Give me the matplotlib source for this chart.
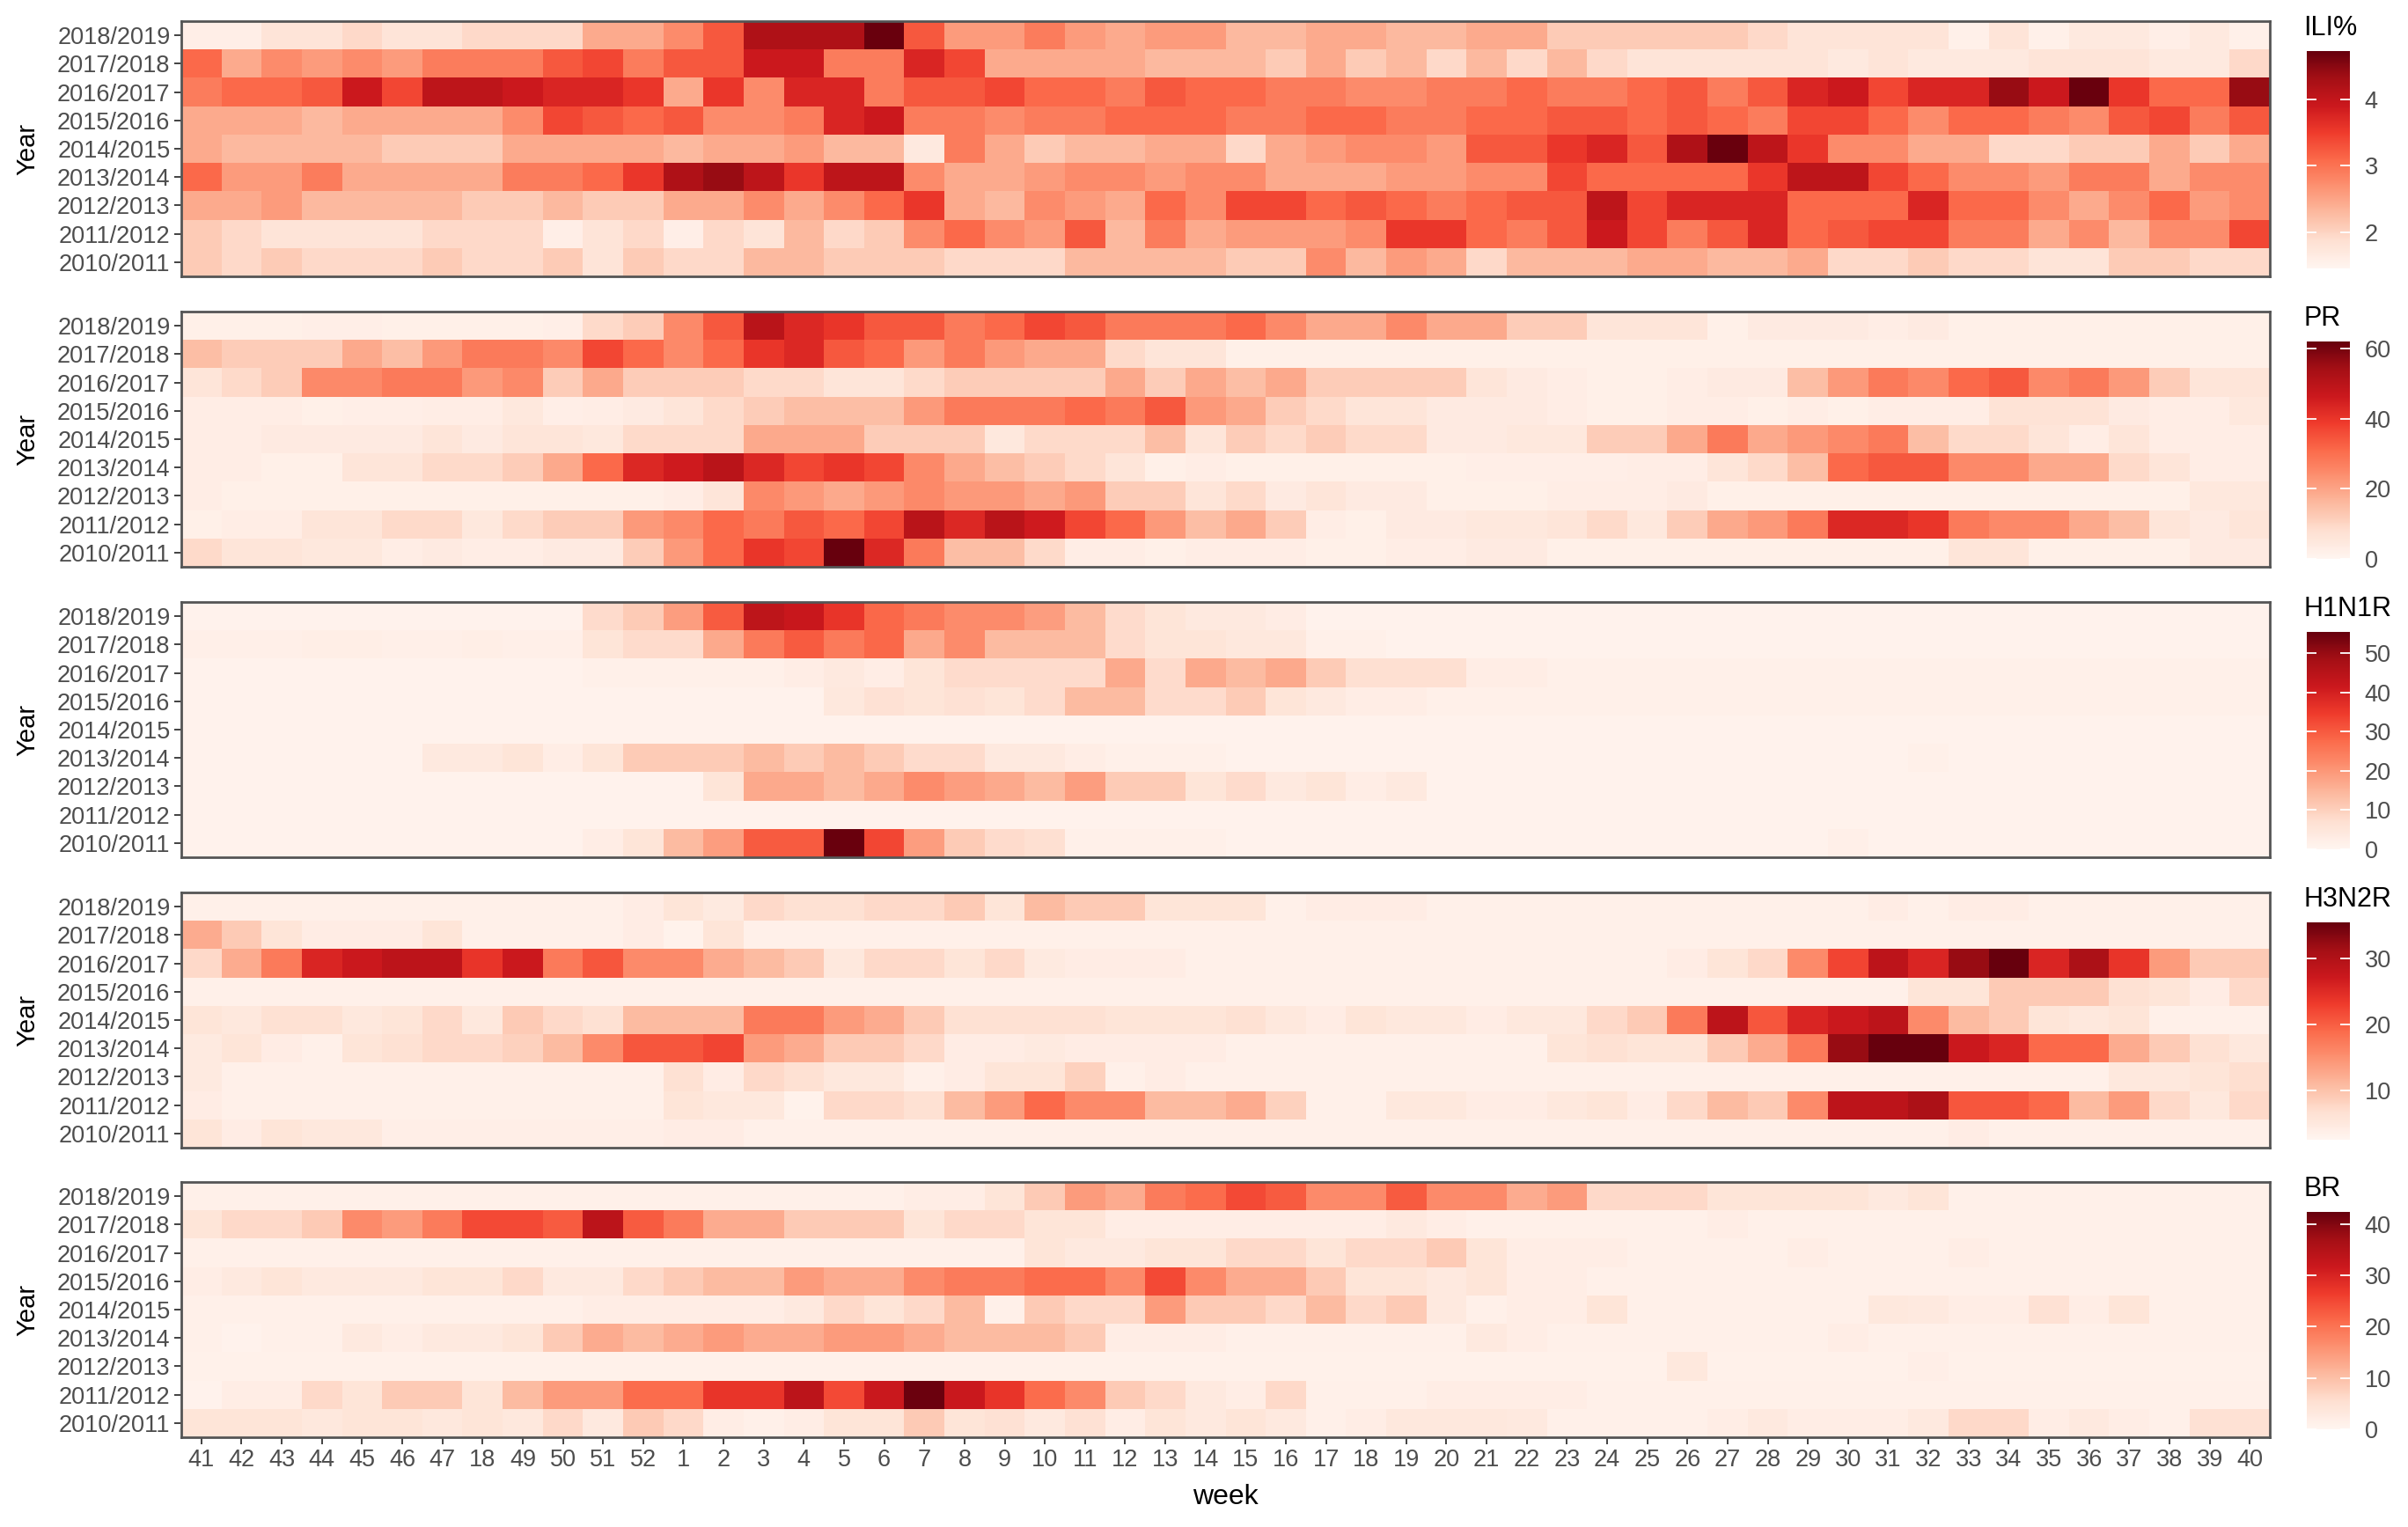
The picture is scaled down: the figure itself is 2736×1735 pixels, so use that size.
import numpy as np
import matplotlib
matplotlib.use("Agg")
import matplotlib.pyplot as plt

plt.rcParams['font.family'] = ['Liberation Sans', 'DejaVu Sans']

weeks = ["41", "42", "43", "44", "45", "46", "47", "18", "49", "50", "51", "52",
         "1", "2", "3", "4", "5", "6", "7", "8", "9", "10", "11", "12", "13", "14",
         "15", "16", "17", "18", "19", "20", "21", "22", "23", "24", "25", "26", "27",
         "28", "29", "30", "31", "32", "33", "34", "35", "36", "37", "38", "39", "40"]
years = ["2018/2019", "2017/2018", "2016/2017", "2015/2016", "2014/2015",
         "2013/2014", "2012/2013", "2011/2012", "2010/2011"]

ili = [
    [1.6,1.6,1.8,1.8,1.95,1.8,1.8,1.95,1.95,1.95, 2.45,2.45,2.75,3.25,4.2,4.2,4.2,4.7,3.25,2.6, 2.6,2.9,2.6,2.45,2.6,2.6, 2.3,2.3,2.45,2.45,2.3,2.3,2.45,2.45,2.1,2.1, 2.1,2.1,2.1,1.95,1.8,1.8,1.8,1.8,1.55,1.8, 1.55,1.7,1.7,1.6,1.7,1.55],
    [3.1,2.45,2.75,2.6,2.75,2.6,2.9,2.9,2.9,3.25, 3.4,2.9,3.25,3.25,3.9,3.9,2.9,2.9,3.75,3.4, 2.45,2.45,2.45,2.45,2.3,2.3, 2.3,2.1,2.45,2.1,2.3,1.95,2.3,1.95,2.3,1.95, 1.8,1.8,1.8,1.8,1.8,1.7,1.8,1.7,1.7,1.7, 1.8,1.8,1.8,1.7,1.7,1.95],
    [2.9,3.1,3.1,3.25,3.9,3.4,4.05,4.05,3.9,3.75, 3.75,3.55,2.45,3.55,2.75,3.75,3.75,2.9,3.25,3.25, 3.4,3.1,3.1,2.9,3.25,3.1, 3.1,2.9,2.9,2.75,2.75,2.9,2.9,3.1,2.9,2.9, 3.1,3.25,2.9,3.25,3.75,3.9,3.4,3.75,3.75,4.4, 3.9,4.7,3.55,3.1,3.1,4.4],
    [2.45,2.45,2.45,2.3,2.45,2.45,2.45,2.45,2.75,3.4, 3.25,3.1,3.25,2.75,2.75,2.9,3.75,3.9,2.9,2.9, 2.75,2.9,2.9,3.1,3.1,3.1, 2.9,2.9,3.1,3.1,2.9,2.9,3.1,3.1,3.25,3.25, 3.1,3.25,3.1,2.9,3.4,3.4,3.1,2.75,3.1,3.1, 2.9,2.75,3.25,3.4,2.9,3.25],
    [2.45,2.3,2.3,2.3,2.3,2.1,2.1,2.1,2.45,2.45, 2.45,2.45,2.3,2.45,2.45,2.6,2.3,2.3,1.7,2.9, 2.45,2.1,2.3,2.3,2.45,2.45, 1.95,2.45,2.6,2.75,2.75,2.6,3.25,3.25,3.55,3.75, 3.25,4.2,4.7,4.05,3.55,2.75,2.75,2.45,2.45,1.95, 1.95,2.1,2.1,2.45,2.1,2.45],
    [3.1,2.6,2.6,2.9,2.45,2.45,2.45,2.45,2.9,2.9, 3.1,3.55,4.2,4.4,4.05,3.55,4.05,4.05,2.75,2.45, 2.45,2.6,2.75,2.75,2.6,2.75, 2.75,2.45,2.45,2.45,2.6,2.6,2.75,2.75,3.4,3.1, 3.1,3.1,3.1,3.55,4.05,4.05,3.4,3.1,2.75,2.75, 2.6,2.9,2.9,2.45,2.75,2.75],
    [2.45,2.45,2.6,2.3,2.3,2.3,2.3,2.1,2.1,2.3, 2.1,2.1,2.45,2.45,2.75,2.45,2.75,3.1,3.55,2.45, 2.3,2.75,2.6,2.45,3.1,2.75, 3.4,3.4,3.1,3.25,3.1,2.9,3.1,3.25,3.25,4.05, 3.4,3.75,3.75,3.75,3.1,3.1,3.1,3.75,3.1,3.1, 2.75,2.45,2.75,3.1,2.6,2.75],
    [2.1,1.95,1.8,1.8,1.8,1.8,1.95,1.95,1.95,1.6, 1.8,1.95,1.6,1.95,1.8,2.3,1.95,2.1,2.75,3.1, 2.75,2.6,3.25,2.3,2.9,2.45, 2.6,2.6,2.6,2.75,3.55,3.55,3.1,2.9,3.25,3.9, 3.4,2.9,3.25,3.75,3.1,3.25,3.4,3.4,2.9,2.9, 2.45,2.75,2.3,2.75,2.75,3.4],
    [2.1,1.95,2.1,1.95,1.95,1.95,2.1,1.95,1.95,2.1, 1.8,2.1,1.95,1.95,2.3,2.3,2.1,2.1,2.1,1.95, 1.95,1.95,2.3,2.3,2.3,2.3, 2.1,2.1,2.75,2.3,2.6,2.45,1.95,2.3,2.3,2.3, 2.45,2.45,2.3,2.3,2.45,1.95,1.95,2.1,1.95,1.95, 1.8,1.8,2.1,2.1,1.95,1.95],
]

pr = [
    [2,2,2,2.5,2.5,2,2,2,2,2.5, 9,12,25,34,50,43,40,34,34,28, 31,37,34,28,28,28, 31,25,19,19,25,19,19,12,12,6, 6,6,2,4,4,4,3,4,2,2, 2,2,2,2,2,2],
    [15,12,12,12,19,15,22,28,28,25, 37,31,25,31,40,43,34,31,22,28, 22,19,19,9,6,6, 2,2,2,2,2,2,2,2,2,2, 2,2,2,2,2,2,2,2,2,2, 2,2,2,2,2,2],
    [6,9,12,25,25,28,28,22,25,12, 19,12,12,12,9,9,6,6,9,12, 12,12,12,19,12,19, 15,19,12,12,12,12,6,4,3,2, 2,3,4,4,15,22,28,25,31,34, 25,28,22,12,6,6],
    [3,3,3,2,2.5,2.5,3,3,5,2.5, 3,4,6,9,12,15,15,15,22,28, 28,28,31,28,34,22, 19,12,9,6,6,4,4,4,3,2, 2,3,3,2,3,2,3,3,3,7, 7,7,4,3,3,5],
    [3,3,4,4,4,4,6,4,6,6, 5,9,9,9,19,19,19,12,12,12, 5,9,9,9,15,6, 12,9,12,9,9,4,4,5,5,12, 12,19,28,19,22,25,28,15,9,9, 6,3,6,3,3,3],
    [3,3,2,2,6,6,9,9,12,19, 31,43,46,50,43,37,40,37,25,19, 15,12,9,6,2,3, 2,2,2,2,2,2,2.5,2.5,2.5,2.5, 3,3,6,9,15,31,34,34,25,25, 19,19,9,6,3,3],
    [3,2,2,2,2,2,2,2,2,2, 2,2,3,6,25,22,19,22,25,22, 22,19,22,12,12,6, 9,4,6,4,4,2,2,2,3,3, 3,4,2,2,2,2,2,2,2,2, 2,2,2,2,5,5],
    [2,3,3,6,6,9,9,5,9,12, 12,22,25,31,28,34,31,37,50,43, 50,46,37,31,22,15, 19,12,3,2,4,4,5,5,6,9, 5,12,19,22,28,43,43,40,28,25, 25,19,15,6,4,6],
    [9,6,6,5,5,3,4,3,3,4, 4,12,22,31,40,37,62,43,28,15, 15,9,3,3,2,3, 3,3,2,2,3,3,4,4,2,2, 2,2,2,2,2,2,2,2,6,6, 2,2,2,2,4,4],
]

h1n1r = [
    [1,1,1,1,1,1,1,1,1,1, 8,11,19,30,44,42,36,28,25,22, 22,19,14,8,5.5,4, 4,3,1,1,1,1,1,1,1,1, 1,1,1,1,1,1,1,1,1,1, 1,1,1,1,1,1],
    [2,2,2,2.5,2.5,2,2,2.5,2,2, 5.5,8,8,17,25,30,25,28,17,22, 14,14,14,8,5.5,5.5, 4.5,4.5,1.7,1.7,1,1,1,1,1,1, 1,1,1,1,1,1,1,1,1,1, 1,1,1,1,1,1],
    [1,1,1,1,1,1,1,1,1,1, 1.7,1.7,1.7,1.7,1.7,2.8,3.9,2.8,5.5,8, 8,8,8,17,8,17, 14,17,11,7,7,7,2.8,2.8,1.7,1.7, 1.7,1.7,1.7,1.7,1.7,1.7,1.7,1.7,1.7,1.7, 1.7,1.7,1.7,1.7,1.7,1.7],
    [1,1,1,1,1,1,1,1,1,1, 1,1,1,1,1,1,4.5,6.5,5.5,6.5, 5.5,8,14,14,8,8, 11,5.5,3.9,2.8,2.8,1.7,1.7,1.7,1.7,1.7, 1.7,1.7,1.7,1.7,1.7,1.7,1.7,1.7,1.7,1.7, 1.7,1.7,1.7,1.7,1.7,1.7],
    [1,1,1,1,1,1,1,1,1,1, 1,1,1,1,1,1,1,1,1,1, 1,1,1,1,1,1, 1,1,1,1,1,1,1,1,1,1, 1,1,1,1,1,1,1,1,1,1, 1,1,1,1,1,1],
    [1,1,1,1,1,1,3.9,3.9,5.5,2.8, 5.5,11,11,11,14,11,14,11,8,8, 3.9,3.9,2.8,1.7,1.7,1.7, 1,1,1,1,1,1,1,1,1,1, 1,1,1,1,1,1,1,1.7,1,1, 1,1,1,1,1,1],
    [1,1,1,1,1,1,1,1,1,1, 1,1,1,5.5,17,17,14,17,22,19, 17,14,19,11,11,5.5, 8,3.9,5.5,2.8,3.9,1,1,1,1,1, 1,1,1,1,1,1,1,1,1,1, 1,1,1,1,1,1],
    [1,1,1,1,1,1,1,1,1,1, 1,1,1,1,1,1,1,1,1,1, 1,1,1,1,1,1, 1,1,1,1,1,1,1,1,1,1, 1,1,1,1,1,1,1,1,1,1, 1,1,1,1,1,1],
    [1,1,1,1,1,1,1,1,1,1, 2.8,5.5,14,19,30,30,55,33,19,11, 8,7,1.7,1.7,1.7,1.7, 1,1,1,1,1,1,1,1,1,1, 1,1,1,1,1,2,1,1,1,1, 1,1,1,1,1,1],
]

h3n2r = [
    [3.5,3.5,3.5,3.5,3.5,3.5,3.5,3.5,3.5,3.5, 3.5,4.2,5.8,4.8,7.5,6.5,6.5,7.5,7.5,9.1, 5.8,10.8,9.1,9.1,5.8,5.8, 5.8,3.5,4.2,4.2,4.2,3.5,3.5,3.5,3.5,3.5, 3.5,3.5,3.5,3.5,3.5,3.5,4.2,3.5,4.2,4.2, 3.5,3.5,3.5,3.5,3.5,3.5],
    [12.4,9.1,5.8,4.2,4.2,4.2,5.8,3.5,3.5,3.5, 3.5,4.2,3.2,5.8,3.5,3.5,3.5,3.5,3.5,3.5, 3.5,3.5,3.5,3.5,3.5,3.5, 3.5,3.5,3.5,3.5,3.5,3.5,3.5,3.5,3.5,3.5, 3.5,3.5,3.5,3.5,3.5,3.5,3.5,3.5,3.5,3.5, 3.5,3.5,3.5,3.5,3.5,3.5],
    [7.5,12.4,17.4,25.6,27.3,28.9,28.9,24,27.3,17.4, 20.7,15.7,15.7,12.4,10.8,9.1,5.1,7.5,7.5,5.8, 7.5,4.8,4.2,4.2,4.2,3.5, 3.5,3.5,3.5,3.5,3.5,3.5,3.5,3.5,3.5,3.5, 3.5,4.2,5.8,7.5,15.7,22.3,28.9,25.6,32.2,35.5, 25.6,30.6,24,14,9.1,9.1],
    [3.5,3.5,3.5,3.5,3.5,3.5,3.5,3.5,3.5,3.5, 3.5,3.5,3.5,3.5,3.5,3.5,3.5,3.5,3.5,3.5, 3.5,3.5,3.5,3.5,3.5,3.5, 3.5,3.5,3.5,3.5,3.5,3.5,3.5,3.5,3.5,3.5, 3.5,3.5,3.5,3.5,3.5,3.5,3.5,5.8,5.8,9.1, 9.1,9.1,6.5,5.8,4.2,7.5],
    [5.8,5.1,6.5,6.5,5.1,5.8,7.5,5.1,9.1,7.5, 6.5,10.8,10.8,10.8,17.4,17.4,14,12.4,9.1,6.5, 6.5,6.5,6.5,5.8,5.8,5.8, 6.5,5.1,4.2,5.8,5.1,5.1,4.2,5.1,5.1,7.5, 9.1,17.4,28.9,20.7,25.6,27.3,28.9,15.7,10.8,9.1, 5.8,5.1,5.8,3.5,3.5,3.5],
    [4.8,5.8,4.2,3.5,5.8,6.5,7.5,7.5,8.4,10.8, 15.7,20.7,20.7,22.3,14,12.4,9.1,9.1,7.5,4.2, 4.2,4.8,4.2,4.2,4.2,4.2, 3.5,3.5,3.5,3.5,3.5,3.5,3.5,3.5,5.8,6.5, 5.8,5.8,9.1,12.4,17.4,32.2,35.5,35.5,27.3,25.6, 19,19,12.4,9.1,6.5,5.1],
    [4.8,3.5,3.5,3.5,3.5,3.5,3.5,3.5,3.5,3.5, 3.5,3.5,6.5,4.2,7.5,6.5,5.1,5.1,3.5,4.2, 5.8,5.8,8.4,3.5,4.2,3.5, 3.5,3.5,3.5,3.5,3.5,3.5,3.5,3.5,3.5,3.5, 3.5,3.5,3.5,3.5,3.5,3.5,3.5,3.5,3.5,3.5, 3.5,3.5,5.1,5.1,5.8,6.8],
    [4.2,3.5,3.5,3.5,3.5,3.5,3.5,3.5,3.5,3.5, 3.5,3.5,5.8,5.1,5.1,3.2,7.5,7.5,6.5,10.8, 14,19,15.7,15.7,10.8,10.8, 12.4,8.4,3.5,3.5,5.1,5.1,4.2,4.2,5.1,5.8, 4.2,7.5,10.8,9.1,15.7,28.9,28.9,30.6,20.7,20.7, 19,10.8,14,7.5,5.1,7.5],
    [5.8,4.2,5.8,5.1,5.1,3.8,3.8,3.8,3.8,3.8, 3.8,3.8,4.2,4.2,3.5,3.5,3.5,3.5,3.5,3.5, 3.5,3.5,3.5,3.5,3.5,3.5, 3.5,3.5,3.5,3.5,3.5,3.5,3.5,3.5,3.5,3.5, 3.5,3.5,3.5,3.5,3.5,3.5,3.5,3.5,4.2,3.5, 3.5,3.5,3.5,3.5,3.5,3.5],
]

br = [
    [1.3,1.3,1.3,1.3,1.3,1.3,1.3,1.3,1.3,1.3, 1.3,1.3,1.3,1.3,1.3,1.3,1.3,1.3,2.1,2.1, 4.2,8.5,14.8,12.7,19,21, 25,23,17,17,23,17,17,12.7,14.8,6.4, 6.4,6.4,4.2,4.2,4.2,4.2,3,4.2,1.3,1.3, 1.3,1.3,1.3,1.3,1.3,1.3],
    [4.2,6.4,6.4,8.5,17,14.8,19,25,25,23, 34,23,19,12.7,12.7,8.5,8.5,8.5,4.2,6.4, 6.4,4.2,4.2,2.1,2.1,2.1, 2.1,2.1,2.1,2.1,3,2.1,1.3,1.3,1.3,1.3, 1.3,1.3,2.1,1.3,1.3,1.3,1.3,1.3,1.3,1.3, 1.3,1.3,1.3,1.3,1.3,1.3],
    [1.3,1.3,1.3,1.3,1.3,1.3,1.3,1.3,1.3,1.3, 1.3,1.3,1.3,1.3,1.3,1.3,1.3,1.3,1.3,1.3, 1.3,4.2,3,3,4.2,4.2, 6.4,6.4,4.2,6.4,6.4,8.5,4.2,2.1,2.1,2.1, 1.3,1.3,1.3,1.3,2.1,1.3,1.3,1.3,2.1,1.3, 1.3,1.3,1.3,1.3,1.3,1.3],
    [2.1,3,4.2,3,3,3,4.2,4.2,6.4,3, 3,6.4,8.5,10.6,10.6,14.8,12.7,12.7,17,19, 19,21,21,17,25,17, 12.7,12.7,8.5,4.2,4.2,3,4.2,2.1,2.1,1.3, 1.3,1.3,1.3,1.3,1.3,1.3,1.3,1.3,1.3,1.3, 1.3,1.3,1.3,1.3,1.3,1.3],
    [1.3,1.3,1.3,1.3,1.3,1.3,1.3,1.3,1.3,1.3, 2.1,2.1,2.1,2.1,2.1,3,6.4,4.2,6.4,10.6, 1.3,8.5,6.4,6.4,14.8,8.5, 8.5,6.4,10.6,6.4,8.5,3,1.3,2.1,2.1,4.2, 1.3,1.3,1.3,1.3,1.3,1.3,3.4,3,2.1,2.1, 5.1,2.1,4.2,1.3,1.3,1.3],
    [1.3,0.8,1.3,1.3,3,2.1,3,3,4.2,8.5, 12.7,10.6,12.7,14.8,12.7,12.7,14.8,14.8,12.7,10.6, 10.6,10.6,8.5,2.1,2.1,2.1, 1.3,1.3,1.3,1.3,1.3,1.3,3,2.1,1.3,1.3, 1.3,1.3,1.3,1.3,1.3,2.1,1.3,1.3,1.3,1.3, 1.3,1.3,1.3,1.3,1.3,1.3],
    [1,1,1,1,1,1,1,1,1,1, 1,1,1,1,1,1,1,1,1,1, 1,1,1,1,1,1, 1,1,1,1,1,1,1,1,1,1, 1,3.4,1,1,1,1,1,1.7,1,1, 1,1,1,1,1,1],
    [0.8,2.1,2.1,6.4,4.2,8.5,8.5,4.2,10.6,14.8, 14.8,21,21,27.5,27.5,34,25,32,42,32, 27.5,21,17,8.5,6.4,3, 2.1,6.4,1.3,1.3,1.3,2.1,2.1,2.1,2.1,1.3, 1.3,1.3,1.3,1.3,1.3,1.3,1.3,1.3,1.3,1.3, 1.3,1.3,1.3,1.3,1.3,1.3],
    [4.2,4.2,4.2,3.4,4.2,4.2,3.4,4.2,3.4,6.4, 3,8.5,6.4,2.1,1.3,2.1,4.2,4.2,8.5,4.2, 5.1,3,5.1,2.1,4.2,3, 4.2,3,1.3,2.1,3.4,3.4,3.4,3,1.3,1.3, 1.3,1.3,2.1,3,2.1,2.1,2.1,3,6.4,6.4, 2.1,3,2.1,1.3,5.1,5.1],
]

panel_titles = ["ILI%", "PR", "H1N1R", "H3N2R", "BR"]
panel_data = [ili, pr, h1n1r, h3n2r, br]
panel_ranges = [(1.46, 4.72), (0, 62), (0, 55.4), (2.5, 35.5), (0, 42.4)]
panel_ticks = [[2, 3, 4], [0, 20, 40, 60], [0, 10, 20, 30, 40, 50], [10, 20, 30], [0, 10, 20, 30, 40]]

W, H = 2736, 1735
fig = plt.figure(figsize=(W / 100, H / 100), dpi=100)

tops = [24, 354, 684, 1014, 1343]
ph = 290
px0, pw = 206, 2373
grey30 = "#4D4D4D"
grey20 = "#333333"
tick_fs = 19.5

for i in range(5):
    top = tops[i]
    arr = np.array(panel_data[i], dtype=float)
    assert arr.shape == (len(years), len(weeks)), (i, arr.shape)
    vmin, vmax = panel_ranges[i]
    ax = fig.add_axes([px0 / W, 1 - (top + ph) / H, pw / W, ph / H])
    xe = np.arange(len(weeks) + 1) - 0.5
    ye = np.arange(len(years) + 1) - 0.5
    m = ax.pcolormesh(xe, ye, arr, cmap="Reds", vmin=vmin, vmax=vmax,
                      shading="flat", edgecolors="face", linewidth=0)
    ax.set_xlim(-0.5, len(weeks) - 0.5)
    ax.set_ylim(len(years) - 0.5, -0.5)
    ax.set_yticks(np.arange(len(years)))
    ax.set_yticklabels(years)
    ax.set_xticks(np.arange(len(weeks)))
    ax.tick_params(axis="both", colors=grey20, labelcolor=grey30,
                   labelsize=tick_fs, length=6, width=1.3, pad=3)
    if i == 4:
        ax.set_xticklabels(weeks)
    else:
        ax.set_xticklabels([])
        ax.tick_params(axis="x", length=0, bottom=False, labelbottom=False)
    for s in ax.spines.values():
        s.set_color("#555555")
        s.set_linewidth(2.0)
    fig.text(31 / W, 1 - (top + ph / 2) / H, "Year", rotation=90,
             ha="center", va="center", fontsize=21, color="black")

    # colour bar
    cax = fig.add_axes([2621 / W, 1 - (top + 281) / H, 49 / W, 247 / H])
    cb = fig.colorbar(m, cax=cax, ticks=panel_ticks[i])
    cb.outline.set_visible(False)
    cax.tick_params(axis="y", direction="in", length=8, width=1.3,
                    color="white", left=True, right=True,
                    labelleft=False, labelright=True,
                    labelcolor=grey30, labelsize=tick_fs, pad=12)
    cax.set_yticklabels([str(t) for t in panel_ticks[i]])
    fig.text(2617 / W, 1 - (top + 8) / H, panel_titles[i], ha="left",
             va="center", fontsize=22, color="black")

fig.text((px0 + pw / 2) / W, 1 - 1701 / H, "week", ha="center", va="center",
         fontsize=23, color="black")

fig.savefig("out.png", dpi=100, facecolor="white")
